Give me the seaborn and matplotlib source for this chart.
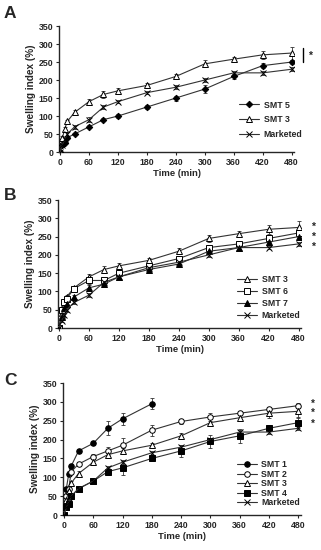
import numpy as np
import pandas as pd
import matplotlib
matplotlib.use("Agg")
import matplotlib.pyplot as plt
import seaborn as sns

sns.set_style("ticks")
plt.rcParams['font.family'] = ['Liberation Sans', 'DejaVu Sans']
plt.rcParams['font.weight'] = 'bold'

time = [0, 5, 10, 15, 30, 60, 90, 120, 180, 240, 300, 360, 420, 480]
time_smt1 = [0, 5, 10, 15, 30, 60, 90, 120, 180]

smt1 = [0, 70, 110, 130, 170, 190, 230, 255, 295]
smt1_err = [0, 5, 6, 6, 5, 5, 18, 15, 14]
smt2 = [0, 50, 70, 115, 135, 155, 170, 185, 225, 248, 260, 270, 280, 290]
smt2_err = [0, 5, 5, 6, 6, 6, 10, 18, 15, 7, 10, 6, 6, 6]
smt3 = [0, 40, 65, 85, 110, 140, 160, 170, 185, 210, 245, 258, 270, 275]
smt3_err = [0, 5, 5, 5, 6, 8, 10, 8, 6, 8, 10, 6, 12, 18]
smt4 = [0, 20, 30, 50, 70, 90, 115, 125, 150, 170, 195, 210, 230, 245]
smt4_err = [0, 4, 4, 5, 5, 6, 10, 18, 8, 15, 18, 18, 8, 15]
smt5 = [0, 20, 25, 40, 50, 70, 90, 100, 125, 150, 175, 210, 240, 250]
smt5_err = [0, 3, 3, 4, 4, 4, 5, 5, 5, 7, 10, 8, 7, 6]
smt6 = [0, 50, 70, 80, 108, 130, 130, 150, 170, 190, 220, 230, 245, 260]
smt6_err = [0, 5, 5, 5, 5, 10, 8, 8, 6, 8, 8, 6, 10, 12]
smt7 = [0, 30, 55, 65, 85, 110, 120, 140, 160, 175, 210, 220, 235, 250]
smt7_err = [0, 4, 4, 5, 5, 8, 6, 6, 6, 6, 8, 6, 8, 8]
marketed = [0, 20, 35, 50, 70, 90, 125, 140, 165, 180, 200, 220, 220, 230]
marketed_err = [0, 4, 4, 5, 5, 6, 6, 5, 5, 5, 5, 5, 5, 5]

xticks = [0, 60, 120, 180, 240, 300, 360, 420, 480]
yticks = [0, 50, 100, 150, 200, 250, 300, 350]

styles = {
    'SMT 1': dict(marker='o', mfc='black', ms=4.0),
    'SMT 2': dict(marker='o', mfc='white', ms=4.0),
    'SMT 3': dict(marker='^', mfc='white', ms=4.0),
    'SMT 4': dict(marker='s', mfc='black', ms=3.7),
    'SMT 5': dict(marker='D', mfc='black', ms=3.3),
    'SMT 6': dict(marker='s', mfc='white', ms=4.0),
    'SMT 7': dict(marker='^', mfc='black', ms=4.0),
    'Marketed': dict(marker='x', mfc='black', ms=4.0),
}

fig = plt.figure(figsize=(3.21, 5.5), dpi=100)

def panel(rect, series, letter, letter_pos):
    ax = fig.add_axes(rect)
    for name, t, y, e in series:
        st = styles[name]
        df = pd.DataFrame({'t': t, 'y': y})
        sns.lineplot(data=df, x='t', y='y', ax=ax, color='#333333', lw=0.8,
                     marker=st['marker'], markersize=st['ms'],
                     markerfacecolor=st['mfc'], markeredgecolor='black',
                     markeredgewidth=0.7, label=name, zorder=3)
        ax.errorbar(t, y, yerr=e, fmt='none', ecolor='#333333', elinewidth=0.6,
                    capsize=1.5, capthick=0.6, zorder=2)
    ax.set_xlim(-2, 485)
    ax.set_ylim(0, 350)
    ax.set_xticks(xticks)
    ax.set_yticks(yticks)
    ax.tick_params(labelsize=6.3, length=2.5, width=0.8, pad=1.5)
    for lab in ax.get_xticklabels() + ax.get_yticklabels():
        lab.set_fontweight('bold')
    ax.set_xlabel('Time (min)', fontsize=6.8, fontweight='bold', labelpad=2)
    ax.set_ylabel('Swelling index (%)', fontsize=7.2, fontweight='bold', labelpad=2)
    for s in ['left', 'bottom']:
        ax.spines[s].set_linewidth(1.0)
    sns.despine(ax=ax)
    fig.text(letter_pos[0], letter_pos[1], letter, fontsize=12.5, fontweight='bold',
             ha='left', va='center')
    return ax

# Panel A
axA = panel([0.184, 0.7236, 0.732, 0.229],
            [('SMT 5', time, smt5, smt5_err),
             ('SMT 3', time, smt3, smt3_err),
             ('Marketed', time, marketed, marketed_err)],
            'A', (0.012, 0.975))
axA.legend(loc='lower right', bbox_to_anchor=(1.07, 0.04), frameon=False,
           handlelength=2.3, handletextpad=0.5, labelspacing=0.66,
           prop={'weight': 'bold', 'size': 6.3})
fig.add_artist(plt.Line2D([303/321, 303/321], [1-48/550, 1-62/550], color='black', lw=1.0))
fig.text(310/321, 1-56/550, '*', fontsize=7.5, fontweight='bold', ha='center', va='center')

# Panel B
axB = panel([0.181, 0.4036, 0.757, 0.2327],
            [('SMT 3', time, smt3, smt3_err),
             ('SMT 6', time, smt6, smt6_err),
             ('SMT 7', time, smt7, smt7_err),
             ('Marketed', time, marketed, marketed_err)],
            'B', (0.012, 0.645))
axB.legend(loc='lower right', bbox_to_anchor=(1.03, 0.0), frameon=False,
           prop={'weight': 'bold', 'size': 6.3}, handlelength=2.3,
           handletextpad=0.5, labelspacing=0.34)
for yy in [227, 237, 247]:
    fig.text(313/321, 1-yy/550, '*', fontsize=7.5, fontweight='bold', ha='center', va='center')

# Panel C
axC = panel([0.196, 0.0636, 0.741, 0.24],
            [('SMT 1', time_smt1, smt1, smt1_err),
             ('SMT 2', time, smt2, smt2_err),
             ('SMT 3', time, smt3, smt3_err),
             ('SMT 4', time, smt4, smt4_err),
             ('Marketed', time, marketed, marketed_err)],
            'C', (0.012, 0.309))
axC.legend(loc='lower right', bbox_to_anchor=(1.03, 0.0), frameon=False,
           prop={'weight': 'bold', 'size': 6.3}, handlelength=2.3,
           handletextpad=0.5, labelspacing=0.05)
for yy in [404, 413, 424]:
    fig.text(313/321, 1-yy/550, '*', fontsize=7, fontweight='bold', ha='center', va='center')

fig.savefig('out.png', dpi=100)
